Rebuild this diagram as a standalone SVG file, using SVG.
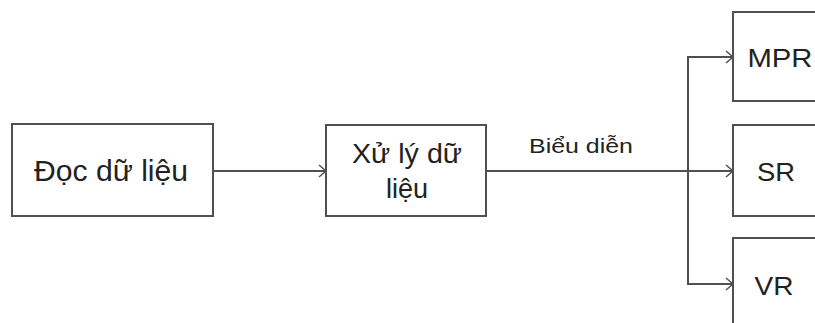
<svg xmlns="http://www.w3.org/2000/svg" width="815" height="323" viewBox="0 0 815 323">
<style>
.box{fill:#fff;stroke:#505050;stroke-width:2}
.ln{fill:none;stroke:#505050;stroke-width:2}
.t{font-family:"Liberation Sans",Arial,sans-serif;fill:#222;text-anchor:middle}
</style>
<defs>
<marker id="ah" markerWidth="12" markerHeight="14" refX="10" refY="7" orient="auto" markerUnits="userSpaceOnUse">
<path d="M3,1 L10,7 L3,13" fill="none" stroke="#505050" stroke-width="1.5"/>
</marker>
</defs>
<rect width="815" height="323" fill="#fff"/>
<g id="connectors">
<line class="ln" x1="213" y1="171" x2="326" y2="171" marker-end="url(#ah)"/>
<line class="ln" x1="486" y1="171" x2="733" y2="171" marker-end="url(#ah)"/>
<polyline class="ln" points="733,57 688,57 688,284 733,284"/>
<line class="ln" x1="726" y1="57" x2="733" y2="57" marker-end="url(#ah)"/>
<line class="ln" x1="726" y1="284" x2="733" y2="284" marker-end="url(#ah)"/>
<text class="t" x="581" y="153" font-size="21" textLength="104" lengthAdjust="spacingAndGlyphs">Biểu diễn</text>
</g>
<g id="doc">
<rect class="box" x="12" y="124" width="201" height="92"/>
<text class="t" x="111" y="181" font-size="29" textLength="154" lengthAdjust="spacingAndGlyphs">Đọc dữ liệu</text>
</g>
<g id="xuly">
<rect class="box" x="326" y="125" width="160" height="91"/>
<text class="t" x="407" y="163" font-size="27" textLength="110" lengthAdjust="spacingAndGlyphs">Xử lý dữ</text>
<text class="t" x="407" y="198" font-size="27">liệu</text>
</g>
<g id="mpr">
<rect class="box" x="733" y="12" width="100" height="89"/>
<text class="t" x="780" y="67" font-size="26" textLength="65" lengthAdjust="spacingAndGlyphs">MPR</text>
</g>
<g id="sr">
<rect class="box" x="733" y="125" width="100" height="91"/>
<text class="t" x="776" y="181" font-size="26" textLength="38" lengthAdjust="spacingAndGlyphs">SR</text>
</g>
<g id="vr">
<rect class="box" x="733" y="238" width="100" height="100"/>
<text class="t" x="774" y="295" font-size="26" textLength="39" lengthAdjust="spacingAndGlyphs">VR</text>
</g>
</svg>
